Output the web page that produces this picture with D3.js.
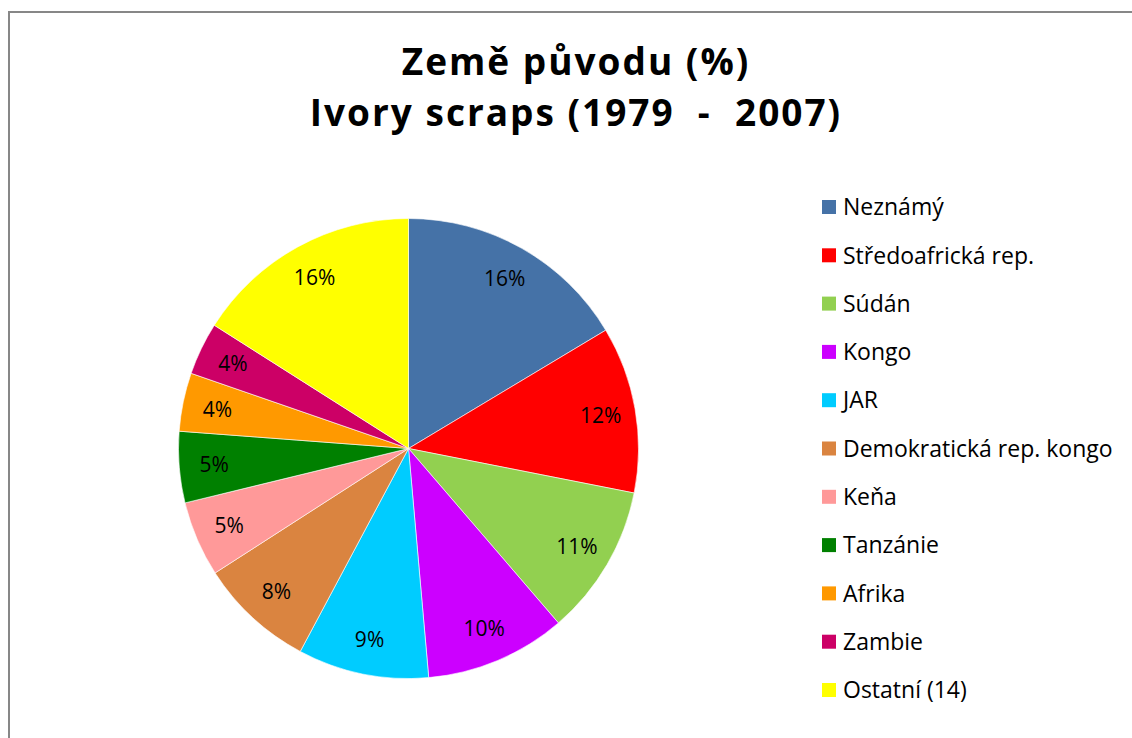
<!DOCTYPE html>
<html>
<head>
<meta charset="utf-8">
<script src="https://cdn.jsdelivr.net/npm/d3@7"></script>
<style>
  html, body { margin: 0; padding: 0; background: #fff; }
  svg { display: block; font-family: "Open Sans", Lato, sans-serif; }
</style>
</head>
<body>
<svg id="pie-chart"></svg>
<script>
// data
var countries = ["Neznámý", "Středoafrická rep.", "Súdán", "Kongo", "JAR",
  "Demokratická rep. kongo", "Keňa", "Tanzánie", "Afrika", "Zambie", "Ostatní (14)"];
var shares = [16.4, 11.7, 10.6, 9.9, 9.2, 8.1, 5.3, 5.0, 4.1, 3.7, 16.0];
var colours = ["#4572A7", "#FF0000", "#92D050", "#CC00FF", "#00CCFF",
  "#DA8440", "#FF9999", "#008000", "#FF9900", "#CC0066", "#FFFF00"];
var titleLines = ["Země původu (%)", "Ivory scraps (1979  -  2007)"];

var width = 1132, height = 738;
var svg = d3.select("#pie-chart")
    .attr("width", width)
    .attr("height", height);

// chart area border (right and bottom edges fall outside the picture)
svg.append("rect")
    .attr("x", 9)
    .attr("y", 12)
    .attr("width", width + 20)
    .attr("height", height + 20)
    .attr("fill", "none")
    .attr("stroke", "#878787")
    .attr("stroke-width", 2);

// title
svg.append("g")
    .selectAll("text")
    .data(titleLines)
    .join("text")
    .attr("x", 576)
    .attr("y", function(d, i) { return 75 + i * 51; })
    .attr("text-anchor", "middle")
    .style("font-size", "37px")
    .style("font-weight", "bold")
    .style("letter-spacing", "2px")
    .style("white-space", "pre")
    .text(function(d) { return d; });

// pie
var radius = 230;
var data = countries.map(function(c, i) {
  return {name: c, value: shares[i], colour: colours[i]};
});
var pie = d3.pie().sort(null).value(function(d) { return d.value; });
var arc = d3.arc().innerRadius(0).outerRadius(radius);
var labelArc = d3.arc().innerRadius(195).outerRadius(195);
var total = d3.sum(shares);

var g = svg.append("g")
    .attr("transform", "translate(408.5,448.5)");

g.selectAll("path")
    .data(pie(data))
    .join("path")
    .attr("d", arc)
    .attr("fill", function(d) { return d.data.colour; })
    .attr("stroke", "#ffffff")
    .attr("stroke-width", 0.6);

g.selectAll("text")
    .data(pie(data))
    .join("text")
    .attr("transform", function(d) { return "translate(" + labelArc.centroid(d) + ")"; })
    .attr("dy", "0.36em")
    .attr("text-anchor", "middle")
    .style("font-size", "21px")
    .attr("fill", "#000")
    .text(function(d) { return Math.round(d.data.value / total * 100) + "%"; });

// legend
var legend = svg.append("g")
    .attr("transform", "translate(822,207)");

var rows = legend.selectAll("g")
    .data(data)
    .join("g")
    .attr("transform", function(d, i) { return "translate(0," + (i * 48.3) + ")"; });

rows.append("rect")
    .attr("x", 0)
    .attr("y", -7)
    .attr("width", 14)
    .attr("height", 14)
    .attr("fill", function(d) { return d.colour; });

rows.append("text")
    .attr("x", 21)
    .attr("dy", "0.36em")
    .style("font-size", "23px")
    .attr("fill", "#000")
    .text(function(d) { return d.name; });
</script>
</body>
</html>
